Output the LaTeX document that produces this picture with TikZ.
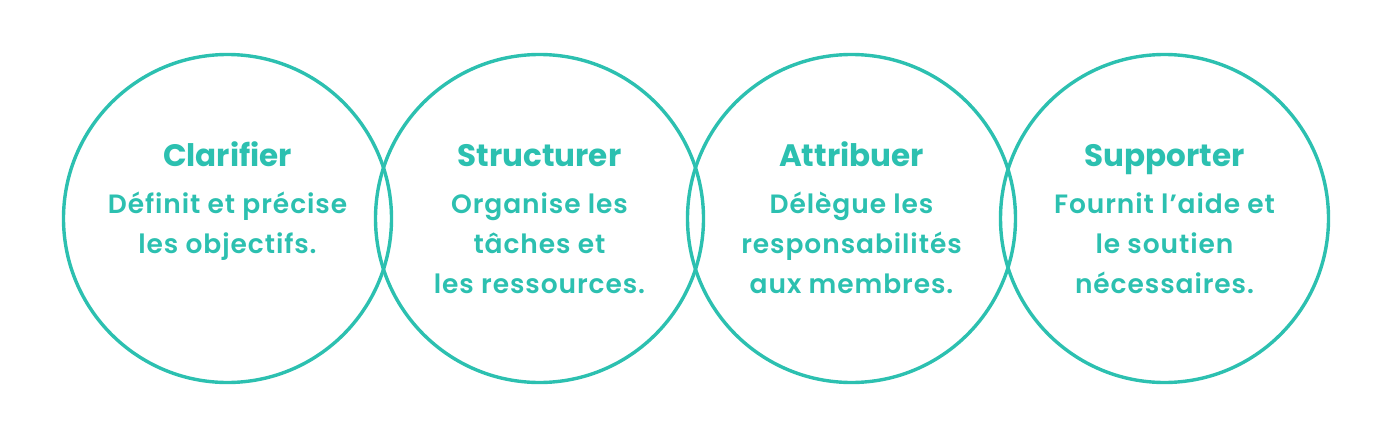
\documentclass[tikz,border=0pt]{standalone}
\usepackage{fontspec}
\setmainfont{Poppins}[UprightFont={* SemiBold},BoldFont={* Bold}]
\newfontfamily\bodyfont{Poppins}[UprightFont={* SemiBold},LetterSpace=3.5]
\definecolor{teal}{RGB}{44,192,176}
\begin{document}
\begin{tikzpicture}[x=1pt,y=1pt,
  ring/.style={circle,draw=teal,line width=3.4pt,minimum size=328pt,inner sep=0pt},
  ttl/.style={text=teal,font=\fontsize{31}{36}\selectfont\bfseries,anchor=base},
  body/.style={text=teal,font=\bodyfont\fontsize{26.5}{40}\selectfont,align=center,anchor=base}]
\useasboundingbox (0,0) rectangle (1392,-436);
\foreach \i/\x in {1/227.5,2/539.5,3/851.5,4/1164.5}{
  \node[ring] (c\i) at (\x,-218.5) {};
}
\node[ttl] (t1) at (227.5,-166) {Clarifier};
\node[ttl] (t2) at (539.5,-166) {Structurer};
\node[ttl] (t3) at (851.5,-166) {Attribuer};
\node[ttl] (t4) at (1164.5,-166) {Supporter};
\node[body] (b1) at (227.5,-253) {Définit et précise\\les objectifs.};
\node[body] (b2) at (539.5,-293) {Organise les\\tâches et\\les ressources.};
\node[body] (b3) at (851.5,-293) {Délègue les\\responsabilités\\aux membres.};
\node[body] (b4) at (1164.5,-293) {Fournit l’aide et\\le soutien\\nécessaires.};
\end{tikzpicture}
\end{document}
